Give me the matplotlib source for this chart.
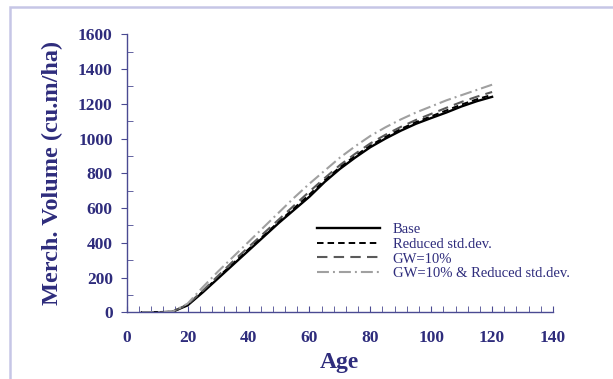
import matplotlib
matplotlib.use("Agg")
import matplotlib.pyplot as plt
from matplotlib.patches import Rectangle
from matplotlib.ticker import MultipleLocator

# data
age = [5, 10, 15, 20, 25, 30, 35, 40, 45, 50, 55, 60,
       65, 70, 75, 80, 85, 90, 95, 100, 105, 110, 115, 120]
base = [0, 0, 3, 40, 115, 195, 275, 355, 435, 515, 590, 665,
        750, 825, 890, 950, 1000, 1045, 1085, 1118, 1150, 1185, 1215, 1240]
reduced_sd = [0, 0, 3, 42, 120, 202, 283, 363, 442, 522, 600, 678,
              760, 835, 900, 960, 1010, 1055, 1095, 1128, 1162, 1196, 1226, 1252]
gw10 = [0, 0, 3, 45, 125, 210, 295, 375, 455, 535, 615, 695,
        772, 847, 912, 972, 1022, 1067, 1107, 1142, 1177, 1211, 1241, 1268]
gw10_reduced = [0, 0, 3, 50, 145, 235, 320, 405, 490, 575, 660, 740,
                815, 890, 955, 1015, 1065, 1110, 1150, 1185, 1220, 1250, 1280, 1310]
labels = ["Base", "Reduced std.dev.", "GW=10%", "GW=10% & Reduced std.dev."]

navy = "#2e2c7c"
axcol = "#4a4a92"

plt.rcParams["font.family"] = ["Liberation Serif", "DejaVu Serif"]
plt.rcParams["lines.scale_dashes"] = False

fig = plt.figure(figsize=(6.13, 3.79), dpi=100)

# light frame round the picture
fig.patches.append(Rectangle((10 / 613, -0.1), 1.2, 1 - 7 / 379 + 0.1,
                             transform=fig.transFigure, fill=False,
                             edgecolor="#c6c6e6", linewidth=1.8))

ax = fig.add_axes([126.7 / 613, 1 - 312.3 / 379, (553 - 126.7) / 613, (312.3 - 34.3) / 379])

ax.plot(age, base, color="black", lw=1.7, label=labels[0])
ax.plot(age, reduced_sd, color="black", lw=1.4, dashes=(4.7, 2.9), label=labels[1])
ax.plot(age, gw10, color="#5a5a5a", lw=1.5, dashes=(7.5, 4.5), label=labels[2])
ax.plot(age, gw10_reduced, color="#a0a0a0", lw=1.5, dashes=(8.6, 2.9, 1.4, 2.9), label=labels[3])

ax.set_xlim(0, 140)
ax.set_ylim(0, 1600)
ax.xaxis.set_major_locator(MultipleLocator(20))
ax.xaxis.set_minor_locator(MultipleLocator(4))
ax.yaxis.set_major_locator(MultipleLocator(200))
ax.yaxis.set_minor_locator(MultipleLocator(100))

for s in ["top", "right"]:
    ax.spines[s].set_visible(False)
for s in ["left", "bottom"]:
    ax.spines[s].set_color(axcol)
    ax.spines[s].set_linewidth(1.0)

ax.tick_params(axis="x", which="both", direction="in", length=4, color=axcol, pad=13)
ax.tick_params(axis="y", which="major", direction="out", length=4, color=axcol, pad=6)
ax.tick_params(axis="y", which="minor", direction="in", length=4, color=axcol)
for lab in ax.get_xticklabels() + ax.get_yticklabels():
    lab.set_fontsize(12.5)
    lab.set_fontweight("bold")
    lab.set_color(navy)

ax.set_xlabel("Age", fontsize=17, fontweight="bold", color=navy, labelpad=4)
ax.set_ylabel("Merch. Volume (cu.m/ha)", fontsize=17.5, fontweight="bold", color=navy, labelpad=11)

leg = ax.legend(loc="upper left", bbox_to_anchor=(317 / 613, 1 - 223 / 379),
                bbox_transform=fig.transFigure, frameon=False, borderpad=0,
                borderaxespad=0, handlelength=4.3, handletextpad=0.9,
                labelspacing=0.1, prop={"size": 10.5})
for t in leg.get_texts():
    t.set_color(navy)

fig.savefig("out.png", dpi=100)
